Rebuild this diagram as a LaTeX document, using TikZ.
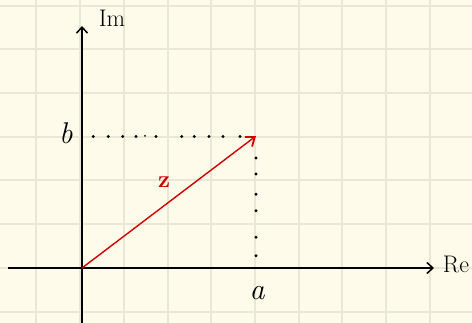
\documentclass[tikz,border=0pt]{standalone}
\usepackage{fontspec}
\usetikzlibrary{arrows.meta}
\definecolor{paper}{HTML}{FEFBEB}
\definecolor{gridc}{HTML}{EAE7D6}
\definecolor{zred}{HTML}{D00000}
\begin{document}
\begin{tikzpicture}[x=1pt,y=-1pt,
  axis/.style={line width=1.5pt,black,-{Straight Barb[length=6pt,width=11pt,line width=1.5pt]}},
  vec/.style={line width=1.4pt,zred,-{Straight Barb[length=8pt,width=12pt,line width=1.8pt]}},
  dotm/.style={circle,fill=black,inner sep=0pt,minimum size=3.2pt},
  lab/.style={inner sep=0pt,font=\fontsize{30}{32}\selectfont}]
\fill[paper] (0,0) rectangle (472,323);
\useasboundingbox (0,0) rectangle (472,323);
\foreach \x in {36,80,124,168,211,255,299,342,386,430}
  \draw[gridc,line width=2pt] (\x,0) -- (\x,323);
\foreach \y in {6,49,93,137,180,224,268,312}
  \draw[gridc,line width=2pt] (0,\y) -- (472,\y);
\coordinate (O) at (82,268);
\coordinate (xl) at (8,268);
\coordinate (xr) at (434,268);
\coordinate (yb) at (82,323);
\coordinate (yt) at (82,26);
\coordinate (Z) at (256,136);
\draw[axis] (xl) -- (xr);
\draw[axis] (yb) -- (yt);
\foreach \x [count=\i] in {93.3,108.3,122.7,136,156,181.7,194.3,209,223,240}
  \node[dotm] (h\i) at (\x,136.5) {};
\node[dotm,minimum size=2pt] (hs) at (145,136) {};
\foreach \y [count=\i] in {158,174,194.3,210.7,237.3,255.7}
  \node[dotm] (v\i) at (256,\y) {};
\draw[vec] (O) -- (Z);
\node[lab] (im) at (112,18) {\fontsize{24}{26}\selectfont Im};
\node[lab] (re) at (456,264) {\fontsize{24}{26}\selectfont Re};
\node[lab] (b) at (66,133) {\itshape b};
\node[lab] (a) at (257,293) {\itshape a};
\node[lab,text=zred] (z) at (164,182) {\fontsize{24}{26}\selectfont\bfseries z};
\end{tikzpicture}
\end{document}
